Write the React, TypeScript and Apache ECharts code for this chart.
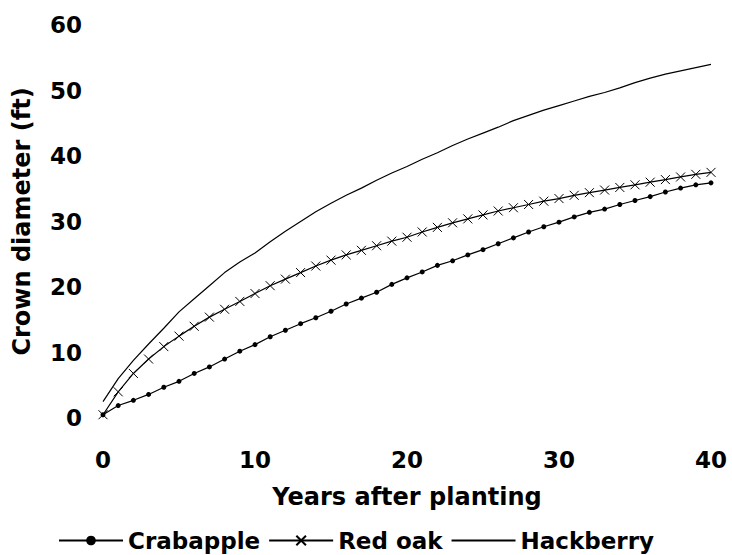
import React, { useEffect, useRef } from "react";
import * as echarts from "echarts";

const years = [
  0, 1, 2, 3, 4, 5, 6, 7, 8, 9, 10, 11, 12, 13, 14, 15, 16, 17, 18, 19, 20,
  21, 22, 23, 24, 25, 26, 27, 28, 29, 30, 31, 32, 33, 34, 35, 36, 37, 38, 39, 40,
];

const crabapple = [
  0.5, 1.9, 2.7, 3.6, 4.7, 5.6, 6.8, 7.8, 9.0, 10.2, 11.2, 12.4, 13.4, 14.4,
  15.3, 16.3, 17.4, 18.3, 19.2, 20.4, 21.4, 22.3, 23.3, 24.0, 24.9, 25.7, 26.6,
  27.5, 28.4, 29.2, 29.9, 30.7, 31.4, 31.9, 32.6, 33.2, 33.8, 34.5, 35.1, 35.6,
  35.9,
];

const redOak = [
  0.5, 4.0, 6.8, 9.0, 10.9, 12.5, 14.0, 15.4, 16.6, 17.8, 19.0, 20.2, 21.2,
  22.2, 23.2, 24.1, 24.9, 25.6, 26.3, 27.0, 27.6, 28.4, 29.1, 29.8, 30.4, 31.0,
  31.6, 32.1, 32.6, 33.1, 33.5, 34.0, 34.4, 34.8, 35.2, 35.6, 36.0, 36.4, 36.8,
  37.2, 37.5,
];

const hackberry = [
  2.5, 6.0, 8.8, 11.3, 13.7, 16.2, 18.2, 20.2, 22.2, 23.8, 25.2, 26.9, 28.5,
  30.0, 31.5, 32.8, 34.0, 35.1, 36.3, 37.4, 38.4, 39.5, 40.5, 41.6, 42.6, 43.5,
  44.4, 45.4, 46.2, 47.0, 47.7, 48.4, 49.1, 49.7, 50.4, 51.2, 51.9, 52.5, 53.0,
  53.5, 54.0,
];

const seriesNames = ["Crabapple", "Red oak", "Hackberry"];
const xTitle = "Years after planting";
const yTitle = "Crown diameter (ft)";

const FONT = "DejaVu Sans";

const pairs = (vals: number[]) => years.map((x, i) => [x, vals[i]]);

export default function App() {
  const ref = useRef<HTMLDivElement>(null);

  useEffect(() => {
    if (!ref.current) return;
    const chart = echarts.init(ref.current, undefined, { renderer: "svg" });
    const lineStyle = { color: "#000", width: 1.2 };
    chart.setOption({
      animation: false,
      backgroundColor: "#fff",
      textStyle: { fontFamily: FONT, color: "#000" },
      grid: { left: 103, right: 21, top: 25, bottom: 137 },
      xAxis: {
        type: "value",
        min: 0,
        max: 40,
        interval: 10,
        name: xTitle,
        nameLocation: "middle",
        nameGap: 67,
        nameTextStyle: { fontFamily: FONT, fontWeight: "bold", fontSize: 24, color: "#000" },
        axisLine: { show: false },
        axisTick: { show: false },
        splitLine: { show: false },
        axisLabel: { margin: 30, fontFamily: FONT, fontWeight: "bold", fontSize: 23, color: "#000" },
      },
      yAxis: {
        type: "value",
        min: 0,
        max: 60,
        interval: 10,
        name: yTitle,
        nameLocation: "middle",
        nameGap: 69,
        nameTextStyle: { fontFamily: FONT, fontWeight: "bold", fontSize: 24, color: "#000" },
        axisLine: { show: false },
        axisTick: { show: false },
        splitLine: { show: false },
        axisLabel: { margin: 21, fontFamily: FONT, fontWeight: "bold", fontSize: 23, color: "#000" },
      },
      legend: {
        left: 58,
        top: 529,
        padding: 0,
        itemWidth: 64,
        itemHeight: 12,
        itemGap: 8,
        data: [
          { name: seriesNames[0] },
          { name: seriesNames[1] },
          {
            name: seriesNames[2],
            itemStyle: { color: "rgba(0,0,0,0)", borderWidth: 0, opacity: 0 },
          },
        ],
        textStyle: { fontFamily: FONT, fontWeight: "bold", fontSize: 23, color: "#000" },
      },
      series: [
        {
          name: seriesNames[0],
          type: "line",
          data: pairs(crabapple),
          symbol: "circle",
          symbolSize: 5,
          itemStyle: { color: "#000" },
          lineStyle,
        },
        {
          name: seriesNames[1],
          type: "line",
          data: pairs(redOak),
          symbol: "path://M0 0 L10 10 M10 0 L0 10",
          symbolSize: 9,
          itemStyle: { color: "#000", borderColor: "#000", borderWidth: 1 },
          lineStyle,
        },
        {
          name: seriesNames[2],
          type: "line",
          data: pairs(hackberry),
          symbol: "none",
          itemStyle: { color: "#000" },
          lineStyle,
        },
      ],
    });
    return () => chart.dispose();
  }, []);

  return (
    <div
      ref={ref}
      style={{ position: "absolute", left: 0, top: 0, width: 732, height: 555 }}
    />
  );
}
